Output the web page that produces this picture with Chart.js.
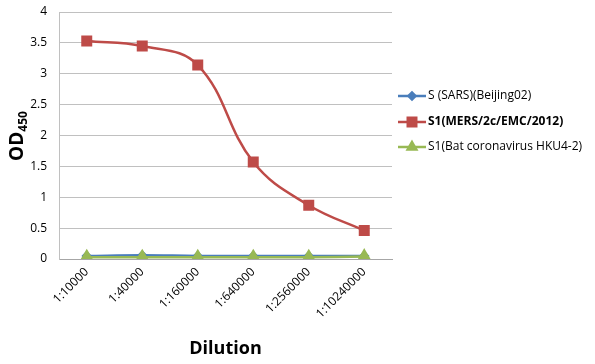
<!DOCTYPE html>
<html>
<head>
<meta charset="utf-8">
<script src="https://cdn.jsdelivr.net/npm/chart.js@4"></script>
<style>
  html, body { margin: 0; padding: 0; background: #fff; }
  #wrap { width: 595px; height: 364px; position: relative; }
</style>
</head>
<body>
<div id="wrap"><canvas id="myChart" width="595" height="364"></canvas></div>
<script>
const labels = ['1:10000', '1:40000', '1:160000', '1:640000', '1:2560000', '1:10240000'];
const sars = [0.05, 0.06, 0.05, 0.05, 0.05, 0.05];
const mers = [3.53, 3.45, 3.14, 1.57, 0.87, 0.46];
const bat = [0.03, 0.03, 0.03, 0.03, 0.03, 0.04];
const yTicks = [0, 0.5, 1, 1.5, 2, 2.5, 3, 3.5, 4];

const tickFont = { family: 'Open Sans', size: 12 };

// legend on the right, line through the marker like in the original
const sideLegend = {
  id: 'sideLegend',
  afterDraw(chart) {
    const ctx = chart.ctx;
    const x0 = 398, rows = [96, 122, 147];
    chart.data.datasets.forEach((ds, i) => {
      const y = rows[i];
      ctx.save();
      ctx.strokeStyle = ds.borderColor;
      ctx.lineWidth = 2.5;
      ctx.beginPath();
      ctx.moveTo(x0, y);
      ctx.lineTo(x0 + 28, y);
      ctx.stroke();
      ctx.fillStyle = ds.pointBackgroundColor;
      ctx.strokeStyle = ds.pointBackgroundColor;
      Chart.helpers.drawPoint(ctx, {
        pointStyle: ds.pointStyle,
        radius: ds.legendRadius,
        rotation: 0,
        borderWidth: 1
      }, x0 + 14, y);
      ctx.fillStyle = '#000';
      ctx.font = (i === 1 ? 'bold ' : '') + '12px "Open Sans"';
      ctx.textBaseline = 'middle';
      ctx.fillText(ds.label, x0 + 30, y);
      ctx.restore();
    });

    // y title with subscript
    ctx.save();
    ctx.translate(16, 136);
    ctx.rotate(-Math.PI / 2);
    ctx.fillStyle = '#000';
    ctx.textBaseline = 'alphabetic';
    ctx.font = 'bold 19px "Open Sans"';
    const w1 = ctx.measureText('OD').width;
    ctx.font = 'bold 12px "Open Sans"';
    const w2 = ctx.measureText('450').width;
    const sx = -(w1 + w2) / 2;
    ctx.font = 'bold 19px "Open Sans"';
    ctx.fillText('OD', sx, 7);
    ctx.font = 'bold 12px "Open Sans"';
    ctx.fillText('450', sx + w1, 11);
    ctx.restore();
  }
};

const data = {
  labels: labels,
  datasets: [{
    label: 'S (SARS)(Beijing02)',
    data: sars,
    borderColor: '#4a7ebb',
    pointBackgroundColor: '#4a7ebb',
    pointBorderColor: '#4a7ebb',
    pointStyle: 'rectRot',
    pointRadius: 3.5,
    legendRadius: 3.5,
    borderWidth: 2.5,
    tension: 0.4,
    order: 2
  }, {
    label: 'S1(MERS/2c/EMC/2012)',
    data: mers,
    borderColor: '#be4b48',
    pointBackgroundColor: '#be4b48',
    pointBorderColor: '#be4b48',
    pointStyle: 'rect',
    pointRadius: 6,
    legendRadius: 6,
    borderWidth: 2.5,
    tension: 0.4,
    order: 1
  }, {
    label: 'S1(Bat coronavirus HKU4-2)',
    data: bat,
    borderColor: '#98b954',
    pointBackgroundColor: '#98b954',
    pointBorderColor: '#98b954',
    pointStyle: 'triangle',
    pointRadius: 6,
    legendRadius: 5,
    borderWidth: 2.5,
    tension: 0.4,
    order: 0
  }]
};

const config = {
  type: 'line',
  data: data,
  plugins: [sideLegend],
  options: {
    responsive: false,
    animation: false,
    layout: { padding: { top: 0, right: 203, left: 0, bottom: 0 } },
    plugins: {
      legend: { display: false },
      tooltip: { enabled: false }
    },
    scales: {
      x: {
        offset: true,
        grid: { display: false, drawTicks: false },
        border: { color: '#a6a6a6' },
        ticks: {
          minRotation: 45,
          maxRotation: 45,
          color: '#000',
          font: tickFont,
          padding: 6
        },
        title: {
          display: true,
          text: 'Dilution',
          color: '#000',
          font: { family: 'Open Sans', size: 18, weight: 'bold' },
          padding: { top: 8 }
        },
        afterFit(scale) { scale.height = 105; }
      },
      y: {
        min: 0,
        max: 4,
        afterBuildTicks(scale) { scale.ticks = yTicks.map(v => ({ value: v })); },
        grid: { color: '#c0c0c0', drawTicks: false },
        border: { color: '#c0c0c0' },
        ticks: {
          color: '#000',
          font: tickFont,
          padding: 12,
          callback: v => String(v)
        },
        afterFit(scale) {
          scale.width = 59;
          scale.paddingTop = 12;
          scale.paddingBottom = 7;
        }
      }
    }
  }
};

const myChart = new Chart(document.getElementById('myChart'), config);
</script>
</body>
</html>
